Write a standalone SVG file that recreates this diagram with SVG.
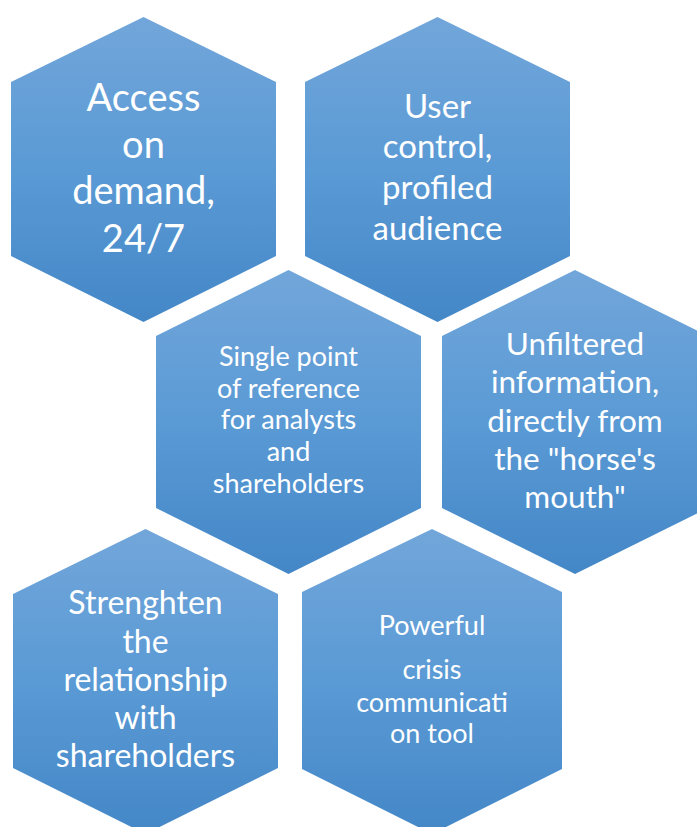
<svg xmlns="http://www.w3.org/2000/svg" width="697" height="827" viewBox="0 0 697 827">
<defs>
<linearGradient id="g" x1="0" y1="0" x2="0" y2="1">
<stop offset="0" stop-color="#72A6DA"/>
<stop offset="0.5" stop-color="#5A9AD5"/>
<stop offset="1" stop-color="#4487C7"/>
</linearGradient>
</defs>
<style>
.hex{fill:url(#g);}
text{font-family:Lato,"Open Sans","Liberation Sans",sans-serif;fill:#FFFFFF;text-anchor:middle;}
</style>
<rect width="697" height="827" fill="#FFFFFF"/>
<g id="connectors"></g>
<g id="n1">
<polygon class="hex" points="143.5,17 276,82 276,256 143.5,322 11,256 11,82"/>
<text font-size="38"><tspan x="143.5" y="111">Access</tspan><tspan x="143.5" y="158">on</tspan><tspan x="143.5" y="204">demand,</tspan><tspan x="143.5" y="252">24/7</tspan></text>
</g>
<g id="n2">
<polygon class="hex" points="437.5,17 570,82 570,256 437.5,322 305,256 305,82"/>
<text font-size="33"><tspan x="437.5" y="118">User</tspan><tspan x="437.5" y="158">control,</tspan><tspan x="437.5" y="199">profiled</tspan><tspan x="437.5" y="240">audience</tspan></text>
</g>
<g id="n3">
<polygon class="hex" points="288.5,270 421,336 421,508 288.5,574 156,508 156,336"/>
<text font-size="27"><tspan x="288.5" y="366">Single point</tspan><tspan x="288.5" y="397.5">of reference</tspan><tspan x="288.5" y="429">for analysts</tspan><tspan x="288.5" y="461">and</tspan><tspan x="288.5" y="493">shareholders</tspan></text>
</g>
<g id="n4">
<polygon class="hex" points="575,270 708,336 708,508 575,574 442,508 442,336"/>
<text font-size="31.5"><tspan x="575" y="355">Unfiltered</tspan><tspan x="575" y="393">information,</tspan><tspan x="575" y="432">directly from</tspan><tspan x="575" y="470">the "horse's</tspan><tspan x="575" y="508">mouth"</tspan></text>
</g>
<g id="n5">
<polygon class="hex" points="145.5,529 278,594 278,768 145.5,834 13,768 13,594"/>
<text font-size="32"><tspan x="145.5" y="614">Strenghten</tspan><tspan x="145.5" y="653">the</tspan><tspan x="145.5" y="691">relationship</tspan><tspan x="145.5" y="729">with</tspan><tspan x="145.5" y="767">shareholders</tspan></text>
</g>
<g id="n6">
<polygon class="hex" points="432,529 562,592 562,769 432,834 302,769 302,592"/>
<text font-size="27"><tspan x="432" y="635">Powerful</tspan><tspan x="432" y="679">crisis</tspan><tspan x="432" y="712">communicati</tspan><tspan x="432" y="743">on tool</tspan></text>
</g>
</svg>
